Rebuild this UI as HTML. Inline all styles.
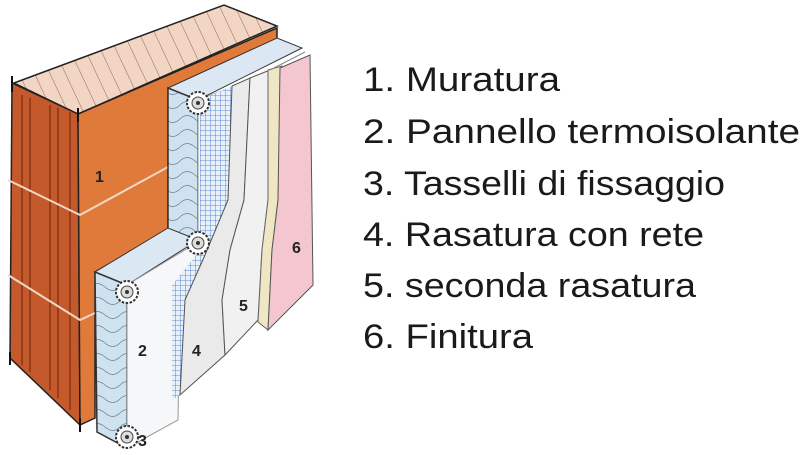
<!DOCTYPE html>
<html><head><meta charset="utf-8"><style>
html,body{margin:0;padding:0;background:#fff;width:800px;height:455px;overflow:hidden}
svg{display:block}
</style></head><body>
<svg width="800" height="455" viewBox="0 0 800 455" xmlns="http://www.w3.org/2000/svg">
<defs>
<pattern id="hatch" width="14" height="14" patternUnits="userSpaceOnUse" patternTransform="rotate(-25)">
<rect width="14" height="14" fill="#f3d5c4"/><line x1="0" y1="0" x2="0" y2="14" stroke="#8a6a5a" stroke-width="1"/>
</pattern>
<pattern id="mesh" width="5" height="5" patternUnits="userSpaceOnUse">
<rect width="5" height="5" fill="#e8f0fa"/><path d="M0 0H5M0 0V5" stroke="#3a6fc8" stroke-width="0.8"/>
</pattern>
<pattern id="wave" width="30" height="14" patternUnits="userSpaceOnUse">
<rect width="30" height="14" fill="#cfe2ef"/><path d="M0 7 Q7 0 15 7 T30 7" fill="none" stroke="#6d7f8c" stroke-width="0.8"/>
</pattern>
<g id="dowel"><circle r="11" fill="#fff" stroke="#333" stroke-width="2" stroke-dasharray="2.5 1.5"/><circle r="6" fill="#ddd" stroke="#444"/><circle r="2" fill="#333"/></g>
</defs>
<!-- top face -->
<polygon points="14,83 224,5 277,26 78,114" fill="url(#hatch)" stroke="#222" stroke-width="1.5"/>
<!-- side face -->
<polygon points="12,83 78,114 80,425 10,358" fill="#c45a2c" stroke="#222" stroke-width="1.5"/>
<g stroke="#7a2a10" stroke-width="1.2"><line x1="22" y1="95" x2="22" y2="365"/><line x1="30" y1="98" x2="30" y2="372"/><line x1="50" y1="105" x2="50" y2="390"/><line x1="58" y1="108" x2="58" y2="398"/><line x1="70" y1="112" x2="70" y2="410"/></g>
<!-- front face -->
<polygon points="78,114 277,28 277,60 168,90 168,230 95,272 95,418 80,425" fill="#e07a3a" stroke="#222" stroke-width="1.5"/>
<g stroke="#f1d8c4" stroke-width="2" fill="none"><polyline points="8,180 80,215 168,167"/><polyline points="8,275 80,320 95,313"/></g>
<g stroke="#111" stroke-width="2"><line x1="12" y1="76" x2="12" y2="92"/><line x1="78" y1="108" x2="78" y2="122"/><line x1="10" y1="352" x2="10" y2="365"/><line x1="80" y1="418" x2="80" y2="432"/></g>
<!-- upper insulation top -->
<polygon points="168,88 277,38 302,48 198,100" fill="#dbe8f3" stroke="#333"/>
<!-- upper insulation side -->
<polygon points="168,88 198,100 198,242 168,230" fill="url(#wave)" stroke="#333" stroke-width="1.5"/>
<!-- lower insulation top -->
<polygon points="95,272 168,228 198,240 127,285" fill="#dbe8f3" stroke="#333"/>
<!-- lower insulation side -->
<polygon points="95,272 127,285 127,448 97,432" fill="url(#wave)" stroke="#333" stroke-width="1.5"/>
<!-- insulation front white -->
<polygon points="198,100 240,84 232,200 200,255 180,290 178,420 127,448 127,285 198,242" fill="#f6f7f9" stroke="#999"/>
<!-- mesh layer -->
<polygon points="200,100 232,86 228,200 205,255 185,300 180,395 172,400 172,285 200,250" fill="url(#mesh)"/>
<!-- layer 4 -->
<polygon points="232,86 250,78 244,200 230,250 222,300 225,355 180,395 185,300 205,255 228,200" fill="#eaeaea" stroke="#555"/>
<!-- layer 5 -->
<polygon points="250,78 270,70 268,200 262,250 258,320 225,355 222,300 230,250 244,200" fill="#f1f1f1" stroke="#555"/>
<!-- beige -->
<polygon points="268,70 282,66 278,200 272,250 268,330 258,322 262,250 268,200" fill="#efe6c4" stroke="#666"/>
<!-- pink -->
<polygon points="280,68 310,55 313,285 268,330 272,250 278,200" fill="#f4c6cf" stroke="#555"/>
<line x1="270" y1="70" x2="305" y2="52" stroke="#888"/>
<use href="#dowel" x="198" y="103"/>
<use href="#dowel" x="198" y="243"/>
<use href="#dowel" x="127" y="292"/>
<use href="#dowel" x="127" y="437"/>
<g font-family="Liberation Sans, sans-serif" font-weight="bold" font-size="16" fill="#222">
<text x="95" y="182">1</text><text x="138" y="356">2</text><text x="138" y="446">3</text><text x="192" y="356">4</text><text x="239" y="311">5</text><text x="292" y="253">6</text>
</g>
<g font-family="Liberation Sans, sans-serif" font-size="34" fill="#1a1a1a">
<text x="363" y="91" textLength="197" lengthAdjust="spacingAndGlyphs">1. Muratura</text>
<text x="363" y="143" textLength="437" lengthAdjust="spacingAndGlyphs">2. Pannello termoisolante</text>
<text x="363" y="195" textLength="362" lengthAdjust="spacingAndGlyphs">3. Tasselli di fissaggio</text>
<text x="363" y="246" textLength="341" lengthAdjust="spacingAndGlyphs">4. Rasatura con rete</text>
<text x="363" y="297" textLength="333" lengthAdjust="spacingAndGlyphs">5. seconda rasatura</text>
<text x="363" y="348" textLength="170" lengthAdjust="spacingAndGlyphs">6. Finitura</text>
</g>
</svg>
</body></html>
